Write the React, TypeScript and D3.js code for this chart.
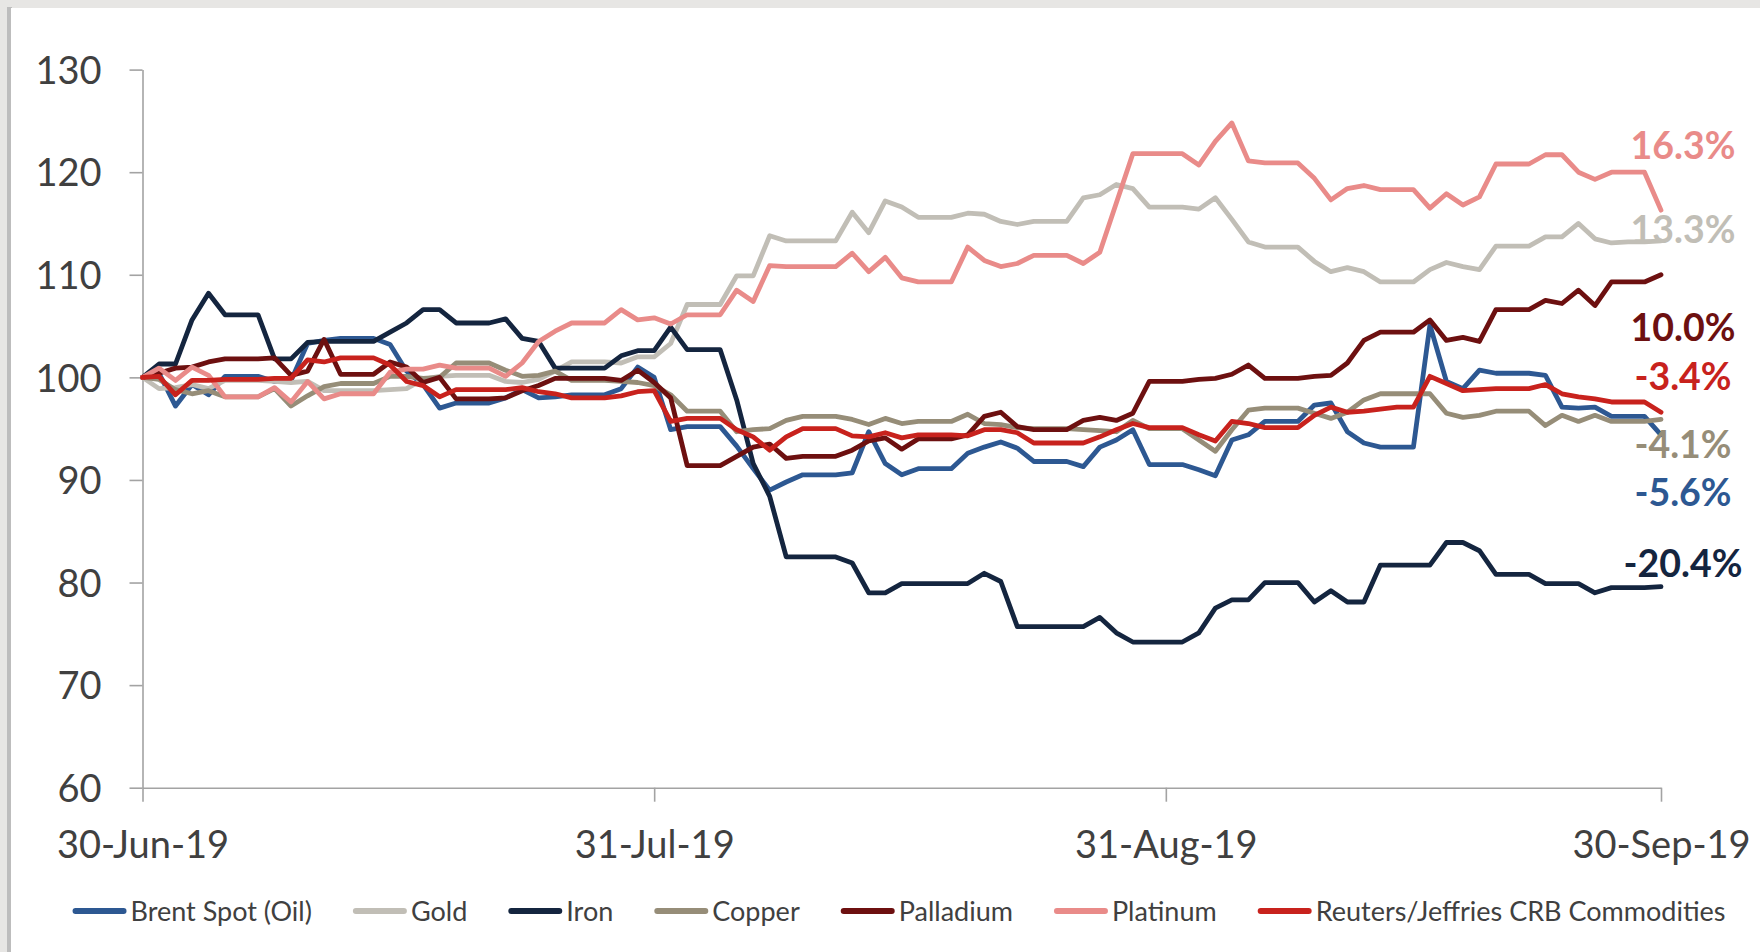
import React, { useEffect, useRef } from "react";
import * as d3 from "d3";

const START = new Date(2019, 5, 30);
const TICK_DATES = [new Date(2019, 5, 30), new Date(2019, 6, 31), new Date(2019, 7, 31), new Date(2019, 8, 30)];
const Y_TICKS = [60, 70, 80, 90, 100, 110, 120, 130];

const SERIES_NAMES = ["Brent Spot (Oil)", "Gold", "Iron", "Copper", "Palladium", "Platinum", "Reuters/Jeffries CRB Commodities"];
const SERIES_COLORS = ["#2d5892", "#c1beb6", "#14253f", "#968d78", "#6d1010", "#e98b89", "#c8221d"];

const brent = [100, 100.4, 97.2, 99.3, 98.3, 100.1, 100.1, 100.1, 99.6, 99.7, 103.3, 103.6, 103.8, 103.8, 103.8, 103.2, 100.6, 99.3, 97.0, 97.5, 97.5, 97.5, 98.0, 98.8, 98.0, 98.1, 98.3, 98.3, 98.3, 98.9, 101.0, 100.0, 94.9, 95.2, 95.2, 95.2, 93.3, 91.1, 89.0, 89.8, 90.5, 90.5, 90.5, 90.7, 94.7, 91.6, 90.5, 91.1, 91.1, 91.1, 92.6, 93.2, 93.7, 93.1, 91.8, 91.8, 91.8, 91.3, 93.2, 93.9, 94.9, 91.5, 91.5, 91.5, 91.0, 90.4, 93.9, 94.4, 95.7, 95.7, 95.7, 97.3, 97.5, 94.7, 93.6, 93.2, 93.2, 93.2, 105.1, 99.6, 98.9, 100.7, 100.4, 100.4, 100.4, 100.2, 97.1, 97.0, 97.1, 96.2, 96.2, 96.2, 94.4];
const gold = [100, 98.9, 99.0, 99.3, 98.9, 99.7, 99.7, 99.7, 99.6, 99.5, 99.6, 98.7, 98.7, 98.7, 98.7, 98.8, 98.9, 99.8, 100.1, 100.2, 100.2, 100.2, 99.6, 99.5, 99.8, 100.6, 101.5, 101.5, 101.5, 101.4, 102.0, 102.0, 103.3, 107.1, 107.1, 107.1, 109.9, 109.9, 113.8, 113.3, 113.3, 113.3, 113.3, 116.1, 114.1, 117.2, 116.6, 115.6, 115.6, 115.6, 116.0, 115.9, 115.2, 114.9, 115.2, 115.2, 115.2, 117.5, 117.8, 118.8, 118.4, 116.6, 116.6, 116.6, 116.4, 117.5, 115.4, 113.2, 112.7, 112.7, 112.7, 111.3, 110.3, 110.7, 110.3, 109.3, 109.3, 109.3, 110.5, 111.2, 110.8, 110.5, 112.8, 112.8, 112.8, 113.7, 113.7, 115.0, 113.5, 113.1, 113.2, 113.2, 113.3];
const iron = [100, 101.3, 101.3, 105.6, 108.2, 106.1, 106.1, 106.1, 101.8, 101.8, 103.4, 103.5, 103.5, 103.5, 103.5, 104.4, 105.3, 106.6, 106.6, 105.3, 105.3, 105.3, 105.7, 103.8, 103.5, 100.9, 100.9, 100.9, 100.9, 102.1, 102.6, 102.6, 104.9, 102.7, 102.7, 102.7, 97.8, 91.6, 88.4, 82.5, 82.5, 82.5, 82.5, 81.9, 79.0, 79.0, 79.9, 79.9, 79.9, 79.9, 79.9, 80.9, 80.1, 75.7, 75.7, 75.7, 75.7, 75.7, 76.6, 75.1, 74.2, 74.2, 74.2, 74.2, 75.1, 77.5, 78.3, 78.3, 80.0, 80.0, 80.0, 78.1, 79.2, 78.1, 78.1, 81.7, 81.7, 81.7, 81.7, 83.9, 83.9, 83.1, 80.8, 80.8, 80.8, 79.9, 79.9, 79.9, 79.0, 79.5, 79.5, 79.5, 79.6];
const copper = [100, 99.8, 98.8, 98.4, 98.7, 98.1, 98.1, 98.1, 98.9, 97.2, 98.2, 99.1, 99.4, 99.4, 99.4, 100.1, 100.1, 99.9, 100.0, 101.4, 101.4, 101.4, 100.7, 100.1, 100.2, 100.6, 99.7, 99.7, 99.7, 99.6, 99.5, 99.2, 98.3, 96.7, 96.7, 96.7, 94.7, 94.9, 95.0, 95.8, 96.2, 96.2, 96.2, 95.9, 95.4, 96.0, 95.5, 95.7, 95.7, 95.7, 96.4, 95.5, 95.4, 95.1, 95.0, 95.0, 95.0, 94.9, 94.8, 94.7, 95.8, 95.0, 95.0, 95.0, 93.9, 92.8, 94.9, 96.8, 97.0, 97.0, 97.0, 96.5, 96.0, 96.6, 97.8, 98.4, 98.4, 98.4, 98.4, 96.5, 96.1, 96.3, 96.7, 96.7, 96.7, 95.3, 96.3, 95.7, 96.3, 95.7, 95.7, 95.7, 95.9];
const palladium = [100, 100.4, 100.9, 101.0, 101.5, 101.8, 101.8, 101.8, 101.9, 100.2, 100.6, 103.7, 100.3, 100.3, 100.3, 101.5, 101.0, 99.5, 100.0, 97.9, 97.9, 97.9, 98.0, 98.7, 99.2, 99.9, 99.9, 99.9, 99.9, 99.7, 100.7, 99.5, 98.0, 91.4, 91.4, 91.4, 92.3, 93.2, 93.5, 92.1, 92.3, 92.3, 92.3, 92.9, 93.8, 94.1, 93.0, 94.0, 94.0, 94.0, 94.4, 96.2, 96.6, 95.2, 94.9, 94.9, 94.9, 95.8, 96.1, 95.8, 96.5, 99.6, 99.6, 99.6, 99.8, 99.9, 100.3, 101.2, 99.9, 99.9, 99.9, 100.1, 100.2, 101.4, 103.6, 104.4, 104.4, 104.4, 105.6, 103.6, 103.9, 103.5, 106.6, 106.6, 106.6, 107.5, 107.2, 108.5, 107.0, 109.3, 109.3, 109.3, 110.0];
const platinum = [100, 100.9, 99.7, 101.0, 100.2, 98.1, 98.1, 98.1, 99.0, 97.6, 99.6, 97.9, 98.4, 98.4, 98.4, 100.5, 100.8, 100.8, 101.2, 100.9, 100.9, 100.9, 100.1, 101.4, 103.5, 104.5, 105.3, 105.3, 105.3, 106.6, 105.6, 105.8, 105.2, 106.1, 106.1, 106.1, 108.5, 107.4, 110.9, 110.8, 110.8, 110.8, 110.8, 112.1, 110.3, 111.7, 109.7, 109.3, 109.3, 109.3, 112.7, 111.4, 110.8, 111.1, 111.9, 111.9, 111.9, 111.1, 112.2, 117.0, 121.8, 121.8, 121.8, 121.8, 120.7, 123.0, 124.8, 121.1, 120.9, 120.9, 120.9, 119.4, 117.3, 118.4, 118.7, 118.3, 118.3, 118.3, 116.5, 117.9, 116.8, 117.6, 120.8, 120.8, 120.8, 121.7, 121.7, 120.0, 119.3, 120.0, 120.0, 120.0, 116.3];
const crb = [100, 100.1, 98.3, 99.7, 99.7, 99.8, 99.8, 99.8, 99.9, 99.9, 101.7, 101.5, 101.9, 101.9, 101.9, 101.2, 99.6, 99.2, 98.1, 98.8, 98.8, 98.8, 98.8, 99.0, 98.6, 98.4, 98.0, 98.0, 98.0, 98.2, 98.6, 98.7, 95.7, 96.0, 96.0, 96.0, 94.9, 94.2, 92.9, 94.2, 95.0, 95.0, 95.0, 94.3, 94.2, 94.6, 94.1, 94.4, 94.4, 94.4, 94.3, 94.9, 94.9, 94.6, 93.6, 93.6, 93.6, 93.6, 94.2, 94.9, 95.5, 95.1, 95.1, 95.1, 94.4, 93.8, 95.7, 95.5, 95.1, 95.1, 95.1, 96.3, 97.1, 96.6, 96.7, 96.9, 97.1, 97.1, 100.1, 99.4, 98.7, 98.8, 98.9, 98.9, 98.9, 99.3, 98.4, 98.1, 97.9, 97.6, 97.6, 97.6, 96.6];

const END_LABELS = ["16.3%", "13.3%", "10.0%", "-3.4%", "-4.1%", "-5.6%", "-20.4%"];
const END_LABEL_SERIES = [5, 1, 4, 6, 3, 0, 2];
const END_LABEL_Y = [122.65, 114.37, 104.86, 100.04, 93.41, 88.73, 81.9];

const W = 1760;
const H = 952;
const FONT = "Lato, 'Noto Sans', sans-serif";
const TEXT = "#404040";
const AXIS = "#a3a3a3";

export default function App() {
  const ref = useRef<SVGSVGElement | null>(null);

  useEffect(() => {
    const svg = d3.select(ref.current);
    svg.selectAll("*").remove();

    const allSeries = [brent, gold, iron, copper, palladium, platinum, crb];
    const dates = brent.map((_, i) => d3.timeDay.offset(START, i));

    const x = d3.scaleTime().domain([TICK_DATES[0], TICK_DATES[3]]).range([142.5, 1661]);
    const y = d3.scaleLinear().domain([60, 130]).range([787.7, 69.6]);

    // background + panel
    svg.append("rect").attr("width", W).attr("height", H).attr("fill", "#e7e6e4");
    svg.append("rect").attr("x", 7).attr("y", 7).attr("width", 5).attr("height", H).attr("fill", "#bdbdbd");
    svg.append("rect").attr("x", 11).attr("y", 8).attr("width", W - 11).attr("height", H).attr("fill", "#ffffff");

    // y axis
    const yAxis = svg.append("g").attr("transform", `translate(${x.range()[0]},0)`)
      .call(d3.axisLeft(y).tickValues(Y_TICKS).tickSize(13).tickSizeOuter(0).tickPadding(28).tickFormat(d3.format("d")));
    yAxis.select(".domain").attr("stroke", AXIS).attr("stroke-width", 1.6);
    yAxis.selectAll(".tick line").attr("stroke", AXIS).attr("stroke-width", 1.6);
    yAxis.selectAll(".tick text").attr("fill", TEXT).attr("font-family", FONT).attr("font-size", 38).attr("dy", "0.36em");

    // x axis
    const xAxis = svg.append("g").attr("transform", `translate(0,${y(60)})`)
      .call(d3.axisBottom(x).tickValues(TICK_DATES).tickSize(14).tickSizeOuter(0).tickPadding(0).tickFormat(d3.timeFormat("%d-%b-%y") as any));
    xAxis.select(".domain").attr("stroke", AXIS).attr("stroke-width", 1.6);
    xAxis.selectAll(".tick line").attr("stroke", AXIS).attr("stroke-width", 1.6);
    xAxis.selectAll(".tick text").attr("fill", TEXT).attr("font-family", FONT).attr("font-size", 38)
      .attr("y", 70).attr("dy", "0");

    // lines
    const line = d3.line<number>().x((_, i) => x(dates[i])).y((v) => y(v));
    svg.append("g").selectAll("path").data(allSeries).join("path")
      .attr("d", (s) => line(s))
      .attr("fill", "none")
      .attr("stroke", (_, i) => SERIES_COLORS[i])
      .attr("stroke-width", 4.8)
      .attr("stroke-linejoin", "round")
      .attr("stroke-linecap", "round");

    // end labels
    const lastX = x(dates[dates.length - 1]);
    svg.append("g").selectAll("text").data(END_LABELS).join("text")
      .attr("x", lastX + 22)
      .attr("y", (_, i) => y(END_LABEL_Y[i]))
      .attr("dy", "0.36em")
      .attr("text-anchor", "middle")
      .attr("font-family", FONT)
      .attr("font-weight", "bold")
      .attr("font-size", 37.5)
      .attr("fill", (_, i) => SERIES_COLORS[END_LABEL_SERIES[i]])
      .text((d) => d);

    // legend
    const legend = svg.append("g");
    const items = legend.selectAll("g").data(SERIES_NAMES).join("g");
    items.append("line")
      .attr("x1", 3).attr("x2", 51).attr("y1", 0).attr("y2", 0)
      .attr("stroke", (_, i) => SERIES_COLORS[i]).attr("stroke-width", 6).attr("stroke-linecap", "round");
    const texts = items.append("text")
      .attr("x", 58).attr("y", 9.5)
      .attr("font-family", FONT).attr("font-size", 27).attr("fill", TEXT)
      .text((d) => d);
    const widths: number[] = [];
    texts.each(function () { widths.push((this as SVGTextElement).getComputedTextLength()); });
    const gap = 41;
    let total = 0;
    widths.forEach((w, i) => { total += 58 + w + (i < widths.length - 1 ? gap : 0); });
    let cx = 899 - total / 2;
    items.attr("transform", (_, i) => {
      const t = `translate(${cx},911)`;
      cx += 58 + widths[i] + gap;
      return t;
    });
  }, []);

  return (
    <div style={{ position: "absolute", left: 0, top: 0, width: W, height: H }}>
      <svg ref={ref} width={W} height={H} style={{ display: "block" }} />
    </div>
  );
}
